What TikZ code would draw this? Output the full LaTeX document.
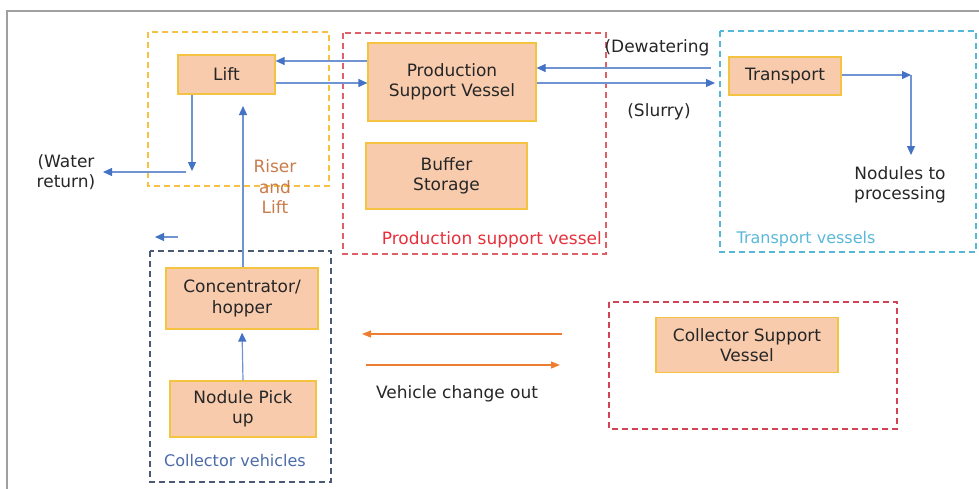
\documentclass[tikz,border=0pt]{standalone}
\usepackage{fontspec}
\setmainfont{DejaVu Sans}
\usetikzlibrary{arrows.meta}
\definecolor{boxfill}{HTML}{F8CBAD}
\definecolor{boxline}{HTML}{F5C342}
\definecolor{txt}{HTML}{262626}
\definecolor{arrblue}{HTML}{7093D2}
\definecolor{headblue}{HTML}{4472C4}
\definecolor{dyellow}{HTML}{F7C244}
\definecolor{dred}{HTML}{E06068}
\definecolor{dred2}{HTML}{D04455}
\definecolor{dcyan}{HTML}{55B8DA}
\definecolor{dnavy}{HTML}{4A5A74}
\definecolor{arrorange}{HTML}{ED7D31}
\definecolor{riser}{HTML}{C97B4B}
\definecolor{psvred}{HTML}{E8303A}
\definecolor{tvcyan}{HTML}{5BB8D8}
\definecolor{cvblue}{HTML}{4A6AAA}
\definecolor{framegray}{HTML}{A0A0A0}
\tikzset{
  box/.style={draw=boxline, fill=boxfill, line width=1.2pt, text=txt, align=center, inner sep=0pt},
  grp/.style={line width=1.5pt, dash pattern=on 6pt off 4pt},
  arr/.style={draw=arrblue, line width=1.2pt, -{Triangle[length=9pt,width=8pt,color=headblue]}},
  oarr/.style={draw=arrorange, line width=1.3pt, -{Triangle[length=9pt,width=7pt]}},
  lbl/.style={text=txt, align=center, inner sep=0pt},
  framestyle/.style={draw=framegray, line width=1.6pt}
}
\begin{document}
\begin{tikzpicture}[x=1pt,y=-1pt,font=\fontsize{17}{20.5}\selectfont]
\useasboundingbox (0,0) rectangle (979,488);
\draw[framestyle] (7,490) -- (7,11) -- (981,11);

% group boxes
\draw[grp, draw=dyellow] (148,32) rectangle (329,186);
\draw[grp, draw=dred] (343,33) rectangle (606,254);
\draw[grp, draw=dcyan] (720,31) rectangle (976,252);
\draw[grp, draw=dnavy] (150,251) rectangle (331,482);
\draw[grp, draw=dred2] (609,302) rectangle (897,429);

% boxes
\node[box, minimum width=97pt, minimum height=39pt] (lift) at (226.5,74.5) {Lift};
\node[box, minimum width=168pt, minimum height=78pt] (psv) at (452,82) {Production\\Support Vessel};
\node[box, minimum width=161pt, minimum height=66pt] (buf) at (446.5,176) {Buffer\\Storage};
\node[box, minimum width=112pt, minimum height=38pt] (trans) at (785,76) {Transport};
\node[box, minimum width=152pt, minimum height=61pt] (conc) at (242,298.5) {Concentrator/\\hopper};
\node[box, minimum width=146pt, minimum height=56pt] (pick) at (243,409) {Nodule Pick\\up};
\node[box, minimum width=182pt, minimum height=55pt] (csv) at (747,345) {Collector Support\\Vessel};

% labels
\node[lbl] (water) at (66,172) {(Water\\return)};
\node[lbl, text=riser] (riserlbl) at (275,187) {Riser\\and\\Lift};
\node[lbl, text=psvred, anchor=east] (psvlbl) at (602,240) {Production support vessel};
\node[lbl, text=tvcyan, font=\fontsize{16}{20}\selectfont] (tvlbl) at (806,239) {Transport vessels};
\node[lbl, text=cvblue, font=\fontsize{16}{20}\selectfont] (cvlbl) at (235,461) {Collector vehicles};
\node[lbl] (dew) at (657,48) {(Dewatering};
\node[lbl] (slurry) at (659,112) {(Slurry)};
\node[lbl] (proc) at (900,185) {Nodules to\\processing};
\node[lbl] (vco) at (457,394) {Vehicle change out};

% coordinates
\coordinate (dwend) at (711,68);
\coordinate (slend) at (715,83);
\coordinate (tcorner) at (911,75);
\coordinate (tend) at (911,155);
\coordinate (wcorner) at (192,171);
\coordinate (wstart) at (186,172);
\coordinate (wend) at (103,172);
\coordinate (risertip) at (243,106);
\coordinate (smallA) at (178,237);
\coordinate (smallB) at (155,237);
\coordinate (oA) at (562,334);
\coordinate (oB) at (362,334);
\coordinate (oC) at (366,365);
\coordinate (oD) at (560,365);

% connectors
\draw[arr] (psv.west |- 0,61) -- (lift.east |- 0,61);
\draw[arr] (lift.east |- 0,83) -- (psv.west |- 0,83);
\draw[arr] (dwend) -- (psv.east |- dwend);
\draw[arr] (psv.east |- slend) -- (slend);
\draw[arr] (trans.east |- tcorner) -- (tcorner);
\draw[arr] (tcorner) -- (tend);
\draw[arr] (lift.south -| wcorner) -- (wcorner);
\draw[arr] (wstart) -- (wend);
\draw[arr] (conc.north -| risertip) -- (risertip);
\draw[arr] (smallA) -- (smallB);
\draw[arr, shorten >=3pt] (pick.north) -- (conc.south);
\draw[oarr] (oA) -- (oB);
\draw[oarr] (oC) -- (oD);
\end{tikzpicture}
\end{document}
